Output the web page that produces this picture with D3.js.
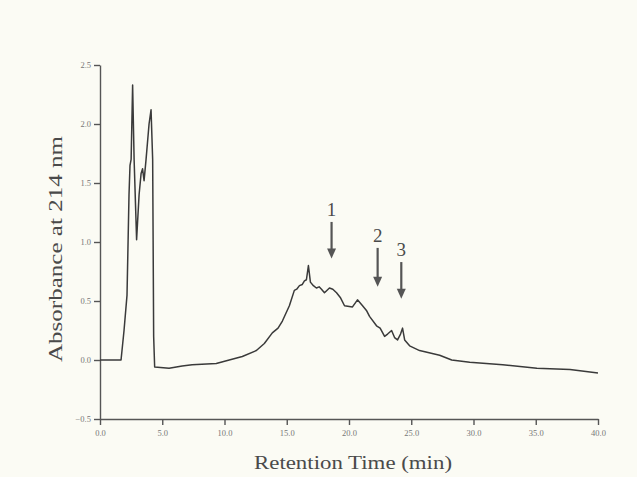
<!DOCTYPE html>
<html>
<head>
<meta charset="utf-8">
<script src="https://cdn.jsdelivr.net/npm/d3@7"></script>
<style>
  html, body { margin: 0; padding: 0; background: #fbfbf4; }
  svg { display: block; }
  .axis path, .axis line { stroke: #555; stroke-width: 1.4; }
  .axis text { font-family: "Liberation Serif", serif; font-size: 8.5px; fill: #777; }
  .title { font-family: "Liberation Serif", serif; fill: #4a4a4a; }
</style>
</head>
<body>
<script>
'use strict';

// retention time (min) and absorbance
const time = [
  0, 1.69, 1.93, 2.17, 2.33, 2.41, 2.5, 2.62, 2.74, 2.94, 3.14, 3.3, 3.42, 3.54, 3.7, 3.94, 4.1, 4.23, 4.31, 4.39,
  5.55, 6.6, 7.4, 9.34, 10.38, 11.43, 12.56, 13.2, 13.84, 14.3, 14.65, 15.21, 15.61, 15.8, 16.02, 16.25, 16.42,
  16.58, 16.74, 16.9, 17.14, 17.38, 17.6, 17.79, 18.03, 18.43, 18.7, 19.0, 19.3, 19.64, 20.28, 20.68, 21.09,
  21.4, 21.65, 22.21, 22.5, 22.86, 23.1, 23.42, 23.66, 23.9, 24.14, 24.3, 24.47, 24.87, 25.67, 27.28, 28.25,
  29.7, 32.35, 35.09, 37.75, 40
];
const absorbance = [
  0, 0, 0.25, 0.55, 1.4, 1.65, 1.7, 2.33, 1.7, 1.02, 1.4, 1.58, 1.62, 1.52, 1.7, 2.0, 2.12, 1.7, 0.2, -0.06,
  -0.07, -0.05, -0.04, -0.03, 0.0, 0.03, 0.08, 0.14, 0.23, 0.27, 0.33, 0.46, 0.59, 0.6, 0.63, 0.64, 0.67,
  0.68, 0.8, 0.66, 0.63, 0.61, 0.62, 0.6, 0.57, 0.61, 0.6, 0.57, 0.53, 0.46, 0.45, 0.51, 0.46,
  0.42, 0.37, 0.29, 0.27, 0.2, 0.22, 0.25, 0.19, 0.17, 0.22, 0.27, 0.17, 0.12, 0.08, 0.04, 0.0,
  -0.02, -0.04, -0.07, -0.08, -0.11
];
const xTicks = [0, 5, 10, 15, 20, 25, 30, 35, 40];
const yTicks = [-0.5, 0, 0.5, 1, 1.5, 2, 2.5];
const markLabels = ['1', '2', '3'];
const markTimes = [18.6, 22.3, 24.2];
const markTops = [1.17, 0.95, 0.83];
const markTips = [0.86, 0.62, 0.52];

const width = 637, height = 477;
const svg = d3.select('body').append('svg').attr('width', width).attr('height', height);

const x = d3.scaleLinear().domain([0, 40]).range([100, 598]);
const y = d3.scaleLinear().domain([-0.5, 2.5]).range([419, 65]);

svg.append('g')
  .attr('class', 'axis')
  .attr('transform', `translate(0,${y(-0.5)})`)
  .call(d3.axisBottom(x).tickValues(xTicks).tickFormat(d3.format('.1f')).tickSize(6).tickSizeOuter(0))
  .call((g) => g.selectAll('text').attr('dy', '0.9em'));

svg.append('g')
  .attr('class', 'axis')
  .attr('transform', `translate(${x(0)},0)`)
  .call(d3.axisLeft(y).tickValues(yTicks).tickFormat(d3.format('.1f')).tickSize(6).tickSizeOuter(0));

const line = d3.line().x((d, i) => x(time[i])).y((d) => y(d));

svg.append('path')
  .datum(absorbance)
  .attr('fill', 'none')
  .attr('stroke', '#3a3a3a')
  .attr('stroke-width', 1.5)
  .attr('stroke-linejoin', 'round')
  .attr('d', line);

// peak markers
const $marks = svg.append('g').selectAll('g')
  .data(markLabels)
  .enter()
  .append('g');

$marks.append('text')
  .attr('class', 'title')
  .attr('x', (d, i) => x(markTimes[i]))
  .attr('y', (d, i) => y(markTops[i]) - 6)
  .attr('text-anchor', 'middle')
  .attr('font-size', 19)
  .text((d) => d);

$marks.append('line')
  .attr('x1', (d, i) => x(markTimes[i]))
  .attr('x2', (d, i) => x(markTimes[i]))
  .attr('y1', (d, i) => y(markTops[i]))
  .attr('y2', (d, i) => y(markTips[i]) - 8)
  .attr('stroke', '#555')
  .attr('stroke-width', 2.2);

$marks.append('path')
  .attr('fill', '#555')
  .attr('d', (d, i) => {
    const px = x(markTimes[i]);
    const py = y(markTips[i]);
    return `M${px - 4.5},${py - 10} L${px + 4.5},${py - 10} L${px},${py} Z`;
  });

svg.append('text')
  .attr('class', 'title')
  .attr('x', 353)
  .attr('y', 469)
  .attr('text-anchor', 'middle')
  .attr('font-size', 19)
  .attr('textLength', 198)
  .attr('lengthAdjust', 'spacingAndGlyphs')
  .text('Retention Time (min)');

svg.append('text')
  .attr('class', 'title')
  .attr('transform', 'translate(62,249) rotate(-90)')
  .attr('text-anchor', 'middle')
  .attr('font-size', 18)
  .attr('textLength', 226)
  .attr('lengthAdjust', 'spacingAndGlyphs')
  .text('Absorbance at 214 nm');
</script>
</body>
</html>
